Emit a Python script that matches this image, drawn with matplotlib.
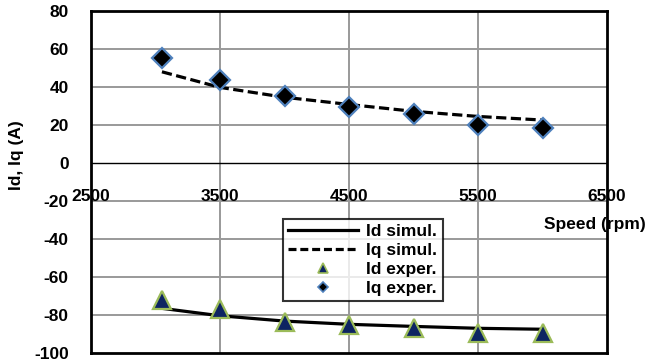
import matplotlib
matplotlib.use("Agg")
import matplotlib.pyplot as plt
from matplotlib.lines import Line2D

plt.rcParams['font.family'] = ['Liberation Sans', 'DejaVu Sans']
plt.rcParams['font.weight'] = 'bold'

# Data
speed_exp = [3050, 3500, 4000, 4500, 5000, 5500, 6000]
iq_exp = [55, 43.7, 35.3, 29.6, 25.6, 19.8, 18.4]
id_exp = [-72, -77, -83.5, -85.3, -87, -89.3, -89.3]
speed_sim = [3050, 3500, 4000, 4500, 5000, 5500, 6000]
iq_sim = [48, 39.8, 34.6, 30.8, 27.2, 24.5, 22.6]
id_sim = [-76.5, -80.4, -83.2, -84.9, -86.0, -87.0, -87.5]
x_ticks = [2500, 3500, 4500, 5500, 6500]
y_ticks = [-100, -80, -60, -40, -20, 0, 20, 40, 60, 80]

FS = 12.5

fig = plt.figure(figsize=(6.51, 3.59), dpi=100)
ax = fig.add_axes([91/651, 6/359, 516/651, 342/359])
ax.set_xlim(2500, 6500)
ax.set_ylim(-100, 80)

grid_c = '#999999'
for xv in x_ticks[1:-1]:
    ax.axvline(xv, color=grid_c, lw=1.4, zorder=1)
for yv in y_ticks[1:-1]:
    if yv != 0:
        ax.axhline(yv, color=grid_c, lw=1.4, zorder=1)
ax.axhline(0, color='black', lw=1.0, zorder=2)

ax.plot(speed_sim, id_sim, color='black', lw=2.3, zorder=3, label='Id simul.')
ax.plot(speed_sim, iq_sim, color='black', lw=2.3, ls=(0, (3.2, 1.4)), zorder=3, label='Iq simul.')
ax.plot(speed_exp, id_exp, ls='none', marker='^', ms=13, mfc='#0d2462',
        mec='#9bbb59', mew=1.6, zorder=4, label='Id exper.')
ax.plot(speed_exp, iq_exp, ls='none', marker='D', ms=10, mfc='black',
        mec='#4f81bd', mew=1.6, zorder=4, label='Iq exper.')

ax.set_xticks(x_ticks)
ax.set_xticklabels([])
ax.set_yticks(y_ticks)
ax.set_yticklabels([str(v) for v in y_ticks], fontsize=FS, fontweight='bold')
ax.tick_params(axis='both', length=0)
ax.tick_params(axis='y', pad=16)
for xv in x_ticks:
    ax.text(xv, -20, str(xv), ha='center', va='baseline', fontsize=FS,
            fontweight='bold', zorder=5)
for s in ax.spines.values():
    s.set_linewidth(2.0)
    s.set_color('black')

fig.text(16/651, 1 - 155/359, 'Id, Iq (A)', rotation=90, ha='center', va='center',
         fontsize=FS, fontweight='bold')
fig.text(646/651, 1 - 225/359, 'Speed (rpm)', ha='right', va='center',
         fontsize=FS, fontweight='bold')

handles = [
    Line2D([], [], color='black', lw=2.3),
    Line2D([], [], color='black', lw=2.3, ls=(0, (2.5, 1.2))),
    Line2D([], [], ls='none', marker='^', ms=7, mfc='#0d2462', mec='#9bbb59', mew=1.2),
    Line2D([], [], ls='none', marker='D', ms=5, mfc='black', mec='#4f81bd', mew=1.2),
]
leg = fig.legend(handles, ['Id simul.', 'Iq simul.', 'Id exper.', 'Iq exper.'],
                 loc='upper left', bbox_to_anchor=(283/651, 1 - 219/359),
                 borderaxespad=0, frameon=True, fancybox=False,
                 prop={'size': FS, 'weight': 'bold'}, handlelength=4.0,
                 labelspacing=0.22, borderpad=0.3, handletextpad=0.5)
leg.get_frame().set_edgecolor('black')
leg.get_frame().set_linewidth(1.5)

fig.savefig('out.png', dpi=100)
